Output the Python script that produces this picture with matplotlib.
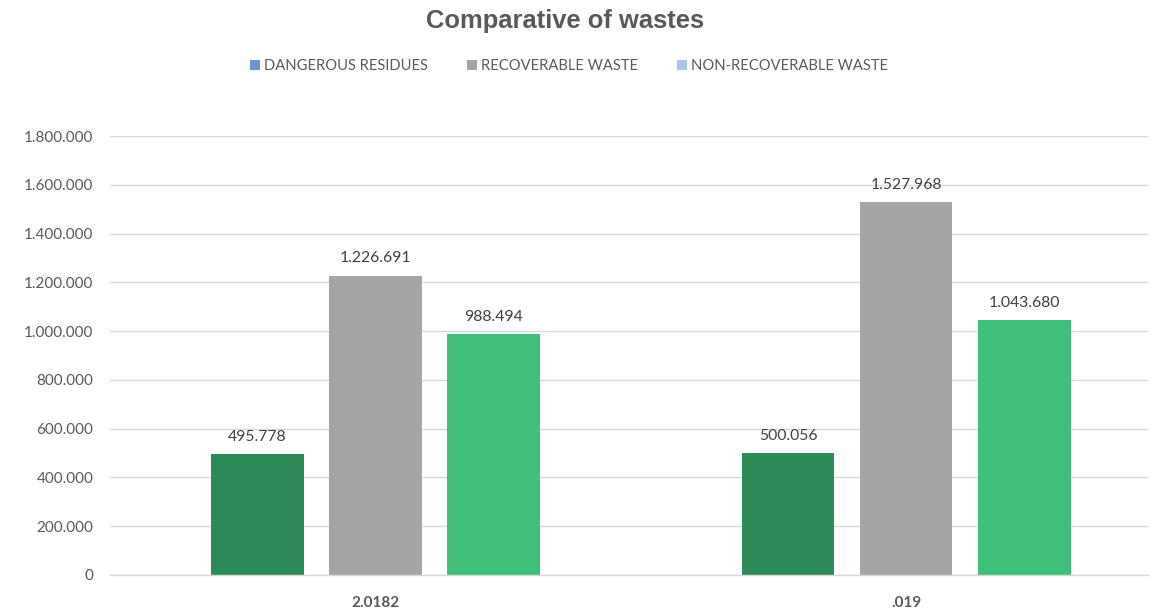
import matplotlib.pyplot as plt
from matplotlib.patches import Patch
from matplotlib.ticker import FuncFormatter
import numpy as np

plt.rcParams['font.family'] = ['Lato', 'DejaVu Sans']

categories = ['2.0182', '.019']
series_names = ['DANGEROUS RESIDUES', 'RECOVERABLE WASTE', 'NON-RECOVERABLE WASTE']
dangerous = [495778, 500056]
recoverable = [1226691, 1527968]
non_recoverable = [988494, 1043680]
yticks = [0, 200000, 400000, 600000, 800000, 1000000, 1200000, 1400000, 1600000, 1800000]

bar_colors = ['#2E8B57', '#A5A5A5', '#3EBF7A']
legend_colors = ['#6A95D0', '#A5A5A5', '#A9C7E6']


def dotted(v, pos=None):
    return f"{int(round(v)):,}".replace(',', '.')


fig = plt.figure(figsize=(11.51, 6.08), dpi=100)
ax = fig.add_axes([110 / 1151, 1 - 575 / 608, 1038 / 1151, (575 - 136) / 608])

x = np.arange(len(categories))
width = 0.175
step = 0.2225
for i, vals in enumerate([dangerous, recoverable, non_recoverable]):
    pos = x + (i - 1) * step
    bars = ax.bar(pos, vals, width, color=bar_colors[i], zorder=3)
    for b, v in zip(bars, vals):
        ax.annotate(dotted(v), (b.get_x() + b.get_width() / 2, v),
                    xytext=(0, 7.5), textcoords='offset points',
                    ha='center', va='bottom', fontsize=11.3, color='#404040')

ax.set_xlim(-0.5, 1.456)
ax.set_ylim(0, 1800000)
ax.set_yticks(yticks)
ax.yaxis.set_major_formatter(FuncFormatter(dotted))
ax.set_xticks(x)
ax.set_xticklabels(categories, fontweight='bold', fontsize=11, color='#595959')
ax.tick_params(axis='y', length=0, labelsize=11, labelcolor='#595959', pad=12)
ax.tick_params(axis='x', length=0, pad=15)
ax.grid(axis='y', color='#D9D9D9', linewidth=1, zorder=0)
for s in ['top', 'right', 'left']:
    ax.spines[s].set_visible(False)
ax.spines['bottom'].set_color('#D9D9D9')
ax.spines['bottom'].set_linewidth(1)
ax.spines['bottom'].set_zorder(4)

fig.text(565 / 1151, 1 - 21 / 608, 'Comparative of wastes', ha='center', va='center',
         fontsize=18.4, fontweight='bold', color='#595959',
         family=['Liberation Sans', 'DejaVu Sans'])

handles = [Patch(facecolor=c, edgecolor='none') for c in legend_colors]
fig.legend(handles, series_names, loc='center', bbox_to_anchor=(569 / 1151, 1 - 66 / 608),
           ncol=3, frameon=False, fontsize=10.6, labelcolor='#595959',
           handlelength=0.7, handleheight=0.7, handletextpad=0.3, columnspacing=2.6)

fig.savefig('out.png', dpi=100, facecolor='white')
